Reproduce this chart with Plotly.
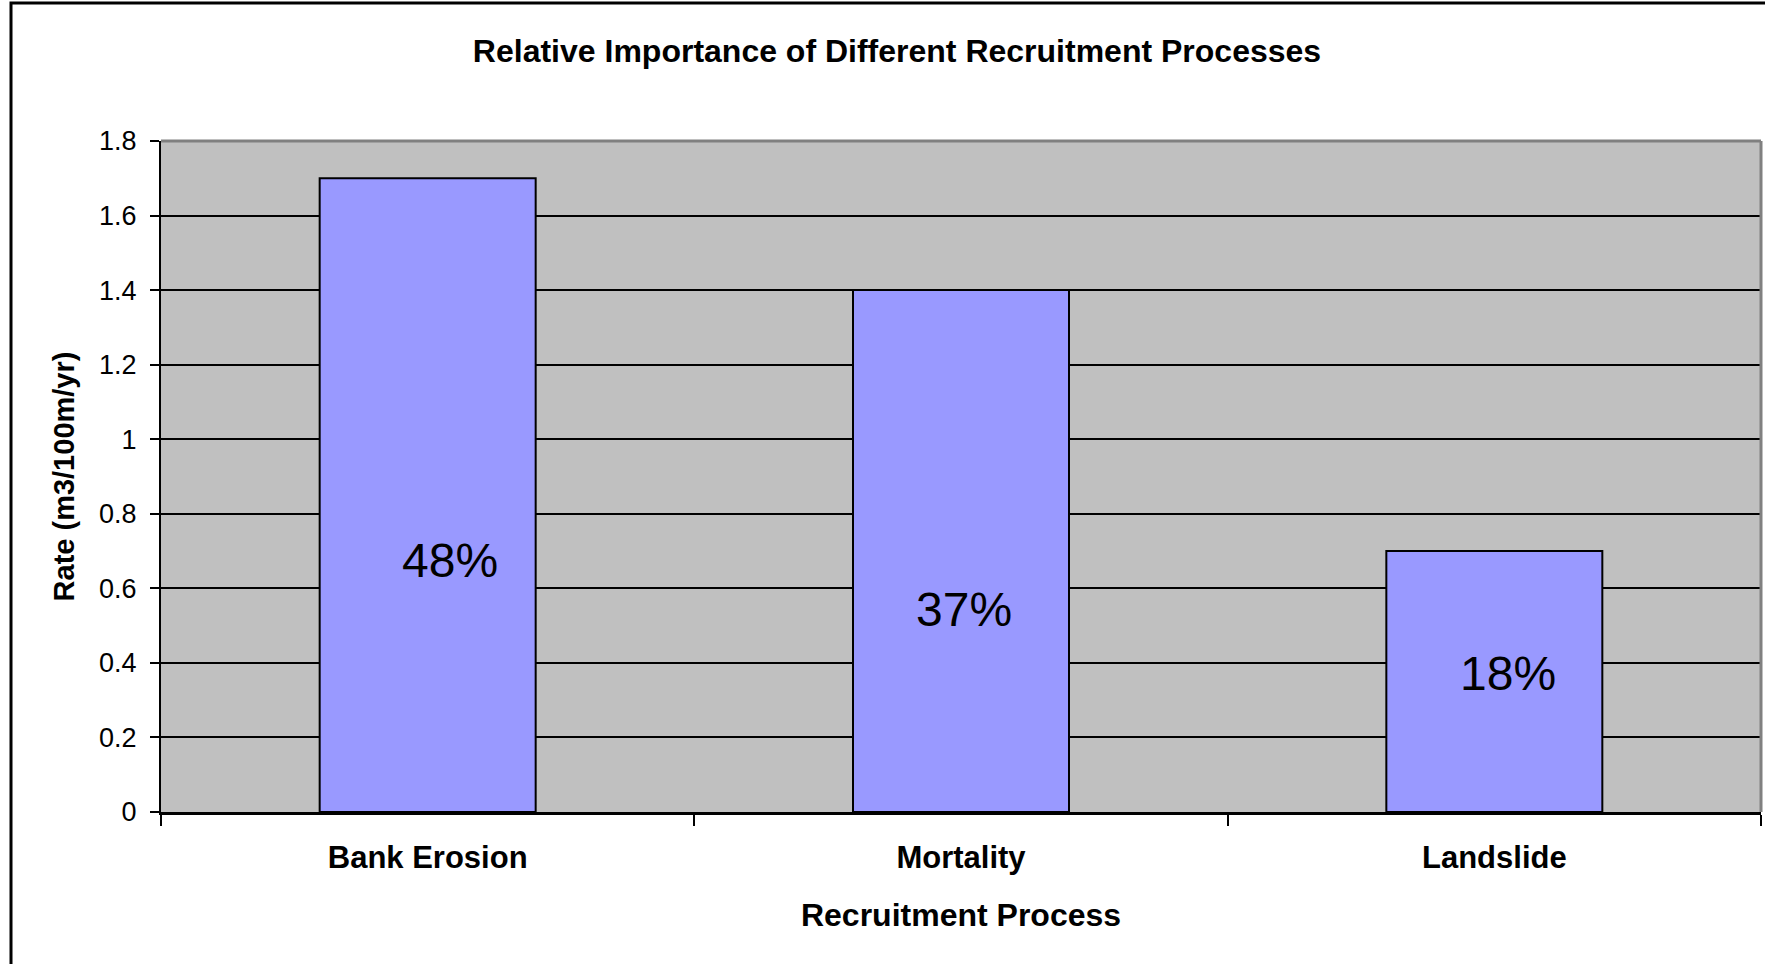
import plotly.graph_objects as go

categories = ["Bank Erosion", "Mortality", "Landslide"]
rates = [1.7, 1.4, 0.7]
pct_labels = ["48%", "37%", "18%"]
label_y = [0.675, 0.543, 0.372]
label_xshift = [22, 3, 14]
y_ticks = [0, 0.2, 0.4, 0.6, 0.8, 1, 1.2, 1.4, 1.6, 1.8]
y_ticktext = ["0", "0.2", "0.4", "0.6", "0.8", "1", "1.2", "1.4", "1.6", "1.8"]

FONT = "Liberation Sans, Arial, sans-serif"
W, H = 1765, 964
L, R, T, B = 161, 4, 141, 152

fig = go.Figure()
fig.add_trace(go.Bar(
    x=categories, y=rates,
    marker=dict(color="#9999FF", line=dict(color="black", width=2)),
    showlegend=False, hoverinfo="x+y",
))

for c, t, ly, xs in zip(categories, pct_labels, label_y, label_xshift):
    fig.add_annotation(x=c, y=ly, text=t, showarrow=False, xshift=xs,
                       font=dict(family=FONT, size=48, color="black"),
                       xanchor="center", yanchor="middle")

pw = W - L - R
ph = H - T - B
# outer chart border
fig.add_shape(type="rect", xref="paper", yref="paper",
              x0=(11 - L) / pw, x1=(W + 20 - L) / pw,
              y0=-(H + 20 - T - ph) / ph, y1=(H - 3 - B) / ph,
              line=dict(color="black", width=3), fillcolor="rgba(0,0,0,0)", layer="above")
# gray plot border top/right
fig.add_shape(type="line", xref="paper", yref="paper", x0=0, x1=1, y0=1, y1=1,
              line=dict(color="#808080", width=3), layer="above")
fig.add_shape(type="line", xref="paper", yref="paper", x0=1, x1=1, y0=0, y1=1,
              line=dict(color="#808080", width=3), layer="above")

fig.update_layout(
    width=W, height=H,
    margin=dict(l=L, r=R, t=T, b=B, autoexpand=False),
    paper_bgcolor="white", plot_bgcolor="#C0C0C0",
    bargap=0.595,
    font=dict(family=FONT, color="black"),
    title=dict(text="<b>Relative Importance of Different Recruitment Processes</b>",
               x=897 / W, xanchor="center", xref="container",
               y=1 - 51 / H, yanchor="middle", yref="container",
               font=dict(family=FONT, size=32, color="black")),
    xaxis=dict(
        type="category", tickson="boundaries", ticks="outside", ticklen=11,
        tickwidth=2, tickcolor="black",
        showline=True, linecolor="black", linewidth=3,
        showgrid=False,
        tickfont=dict(family=FONT, size=31, color="black"),
        tickvals=categories, ticktext=["<b>%s</b>" % c for c in categories],
        ticklabelstandoff=16,
        title=dict(text="<b>Recruitment Process</b>", standoff=30,
                   font=dict(family=FONT, size=32, color="black")),
    ),
    yaxis=dict(
        range=[0, 1.8], tickvals=y_ticks, ticktext=y_ticktext,
        ticks="outside", ticklen=9, tickwidth=2, tickcolor="black",
        showline=True, linecolor="black", linewidth=2,
        showgrid=True, gridcolor="black", gridwidth=2, zeroline=False,
        tickfont=dict(family=FONT, size=27, color="black"),
        ticklabelstandoff=8,
        title=dict(text="<b>Rate (m3/100m/yr)</b>", standoff=16,
                   font=dict(family=FONT, size=29, color="black")),
    ),
)

fig.write_html("out.html")
